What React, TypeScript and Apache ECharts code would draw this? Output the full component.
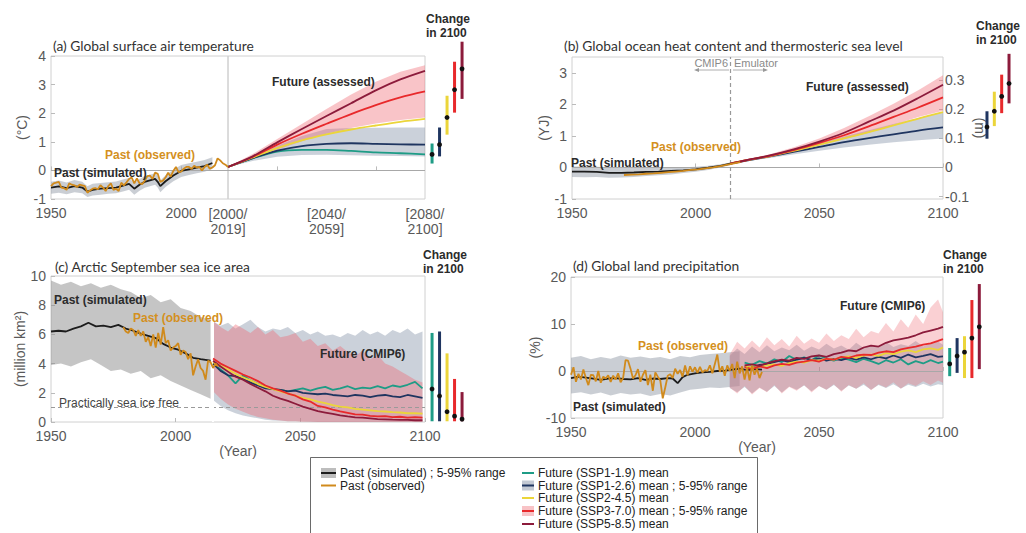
import React, { useEffect, useRef } from 'react';
import * as echarts from 'echarts';

// ---------- colours ----------
const COL_SIM = '#1c1c1c';
const COL_OBS = '#D08A1C';
const COL_119 = '#1E9C86';
const COL_126 = '#1F3560';
const COL_245 = '#EBD53A';
const COL_370 = '#E8292B';
const COL_585 = '#8C1B3B';
const SCEN_COLORS5 = [COL_119, COL_126, COL_245, COL_370, COL_585];
const SCEN_COLORS4 = [COL_126, COL_245, COL_370, COL_585];
const SCEN5 = ['SSP1-1.9', 'SSP1-2.6', 'SSP2-4.5', 'SSP3-7.0', 'SSP5-8.5'];
const SCEN4 = ['SSP1-2.6', 'SSP2-4.5', 'SSP3-7.0', 'SSP5-8.5'];

// ---------- panel (a) global surface air temperature ----------
const A_SIM_YEARS = [1950, 1953, 1956, 1959, 1962, 1964, 1966, 1969, 1972, 1975, 1978, 1980, 1982, 1984, 1986, 1988, 1990, 1991, 1992, 1994, 1997, 2000, 2003, 2006, 2009, 2012];
const A_SIM = [-0.6, -0.56, -0.62, -0.55, -0.6, -0.74, -0.68, -0.64, -0.62, -0.6, -0.52, -0.47, -0.64, -0.5, -0.4, -0.35, -0.3, -0.4, -0.55, -0.38, -0.18, -0.02, 0.04, 0.1, 0.15, 0.26];
const A_SIM_LO = [-0.82, -0.78, -0.83, -0.76, -0.8, -0.93, -0.88, -0.85, -0.82, -0.8, -0.73, -0.68, -0.85, -0.71, -0.61, -0.55, -0.5, -0.6, -0.76, -0.58, -0.38, -0.23, -0.16, -0.1, -0.05, 0.05];
const A_SIM_HI = [-0.4, -0.35, -0.42, -0.34, -0.4, -0.55, -0.47, -0.44, -0.41, -0.39, -0.31, -0.27, -0.44, -0.3, -0.2, -0.15, -0.1, -0.2, -0.35, -0.17, 0.02, 0.19, 0.25, 0.3, 0.36, 0.46];
const A_OBS_YEARS = [1950, 1951, 1952, 1953, 1954, 1955, 1956, 1957, 1958, 1959, 1960, 1961, 1962, 1963, 1964, 1965, 1966, 1967, 1968, 1969, 1970, 1971, 1972, 1973, 1974, 1975, 1976, 1977, 1978, 1979, 1980, 1981, 1982, 1983, 1984, 1985, 1986, 1987, 1988, 1989, 1990, 1991, 1992, 1993, 1994, 1995, 1996, 1997, 1998, 1999, 2000, 2001, 2002, 2003, 2004, 2005, 2006, 2007, 2008, 2009, 2010, 2011, 2012, 2013, 2014, 2015, 2016, 2017, 2018];
const A_OBS = [-0.55, -0.45, -0.43, -0.4, -0.6, -0.62, -0.68, -0.45, -0.5, -0.52, -0.58, -0.5, -0.52, -0.55, -0.78, -0.7, -0.64, -0.62, -0.66, -0.52, -0.6, -0.72, -0.55, -0.45, -0.68, -0.64, -0.72, -0.43, -0.52, -0.42, -0.3, -0.25, -0.45, -0.28, -0.45, -0.48, -0.36, -0.2, -0.18, -0.3, -0.08, -0.12, -0.4, -0.36, -0.25, -0.08, -0.22, -0.02, 0.12, -0.06, -0.04, 0.06, 0.12, 0.12, 0.05, 0.16, 0.1, 0.12, 0.0, 0.12, 0.2, 0.06, 0.1, 0.18, 0.42, 0.35, 0.25, 0.2, 0.12];
const A_PERIOD_TICKS = [2010, 2050, 2090];
const A_PERIOD_LABELS = ['[2000/\n2019]', '[2040/\n2059]', '[2080/\n2100]'];
const A_PERIOD_MINOR_TICKS = [2030, 2070];
const A_FUT_YEARS = [2010, 2020, 2030, 2040, 2050, 2060, 2070, 2080, 2090];
const A_FUT_119 = [0.12, 0.42, 0.66, 0.72, 0.72, 0.68, 0.63, 0.6, 0.56];
const A_FUT_126 = [0.12, 0.43, 0.69, 0.85, 0.93, 0.95, 0.93, 0.91, 0.9];
const A_FUT_245 = [0.12, 0.45, 0.78, 1.05, 1.26, 1.43, 1.57, 1.7, 1.8];
const A_FUT_370 = [0.12, 0.47, 0.9, 1.28, 1.63, 1.97, 2.28, 2.55, 2.76];
const A_FUT_585 = [0.12, 0.49, 0.98, 1.45, 1.9, 2.35, 2.8, 3.18, 3.48];
const A_BAND_126_LO = [0.12, 0.33, 0.48, 0.54, 0.55, 0.53, 0.51, 0.5, 0.49];
const A_BAND_126_HI = [0.12, 0.52, 0.86, 1.2, 1.45, 1.48, 1.49, 1.5, 1.5];
const A_BAND_370_LO = [0.12, 0.4, 0.72, 1.02, 1.28, 1.48, 1.64, 1.76, 1.85];
const A_BAND_370_HI = [0.12, 0.57, 1.1, 1.62, 2.15, 2.65, 3.1, 3.45, 3.68];
const A_CHG_LO = [0.24, 0.49, 1.25, 2.02, 2.5];
const A_CHG_MID = [0.56, 0.9, 1.85, 2.82, 3.55];
const A_CHG_HI = [0.94, 1.5, 2.61, 3.8, 4.5];

// ---------- panel (b) ocean heat content ----------
const B_SIM_YEARS = [1950, 1955, 1960, 1965, 1970, 1975, 1980, 1985, 1990, 1995, 2000, 2005, 2010, 2014];
const B_SIM = [-0.13, -0.13, -0.14, -0.17, -0.17, -0.16, -0.14, -0.13, -0.11, -0.09, -0.06, -0.01, 0.05, 0.12];
const B_SIM_LO = [-0.3, -0.31, -0.3, -0.33, -0.32, -0.3, -0.27, -0.25, -0.22, -0.18, -0.14, -0.08, 0.0, 0.07];
const B_SIM_HI = [0.03, 0.03, 0.02, 0.0, 0.0, 0.0, 0.0, 0.0, 0.01, 0.01, 0.02, 0.05, 0.1, 0.16];
const B_OBS_YEARS = [1971, 1974, 1977, 1980, 1983, 1986, 1989, 1992, 1995, 1998, 2001, 2004, 2007, 2010, 2013, 2016, 2018];
const B_OBS = [-0.24, -0.23, -0.22, -0.2, -0.19, -0.17, -0.15, -0.13, -0.11, -0.08, -0.06, -0.03, 0.0, 0.04, 0.09, 0.14, 0.17];
const B_FUT_YEARS = [2014, 2020, 2030, 2040, 2050, 2060, 2070, 2080, 2090, 2100];
const B_FUT_126 = [0.12, 0.21, 0.35, 0.5, 0.65, 0.8, 0.93, 1.05, 1.17, 1.27];
const B_FUT_245 = [0.12, 0.22, 0.36, 0.53, 0.72, 0.92, 1.12, 1.33, 1.55, 1.75];
const B_FUT_370 = [0.12, 0.22, 0.37, 0.56, 0.78, 1.02, 1.3, 1.6, 1.9, 2.22];
const B_FUT_585 = [0.12, 0.22, 0.38, 0.58, 0.82, 1.1, 1.45, 1.8, 2.2, 2.62];
const B_BAND_126_LO = [0.12, 0.19, 0.3, 0.42, 0.53, 0.63, 0.72, 0.8, 0.86, 0.92];
const B_BAND_126_HI = [0.12, 0.23, 0.4, 0.58, 0.78, 0.98, 1.18, 1.38, 1.57, 1.75];
const B_BAND_370_LO = [0.12, 0.2, 0.33, 0.5, 0.7, 0.9, 1.1, 1.35, 1.6, 1.8];
const B_BAND_370_HI = [0.12, 0.24, 0.42, 0.65, 0.92, 1.25, 1.62, 2.02, 2.45, 2.92];
const B_M_PER_YJ = 0.108;
const B_M_TICKS = [-0.1, 0, 0.1, 0.2, 0.3];
const B_CHG_LO = [0.91, 1.31, 1.72, 2.03];
const B_CHG_MID = [1.28, 1.78, 2.25, 2.66];
const B_CHG_HI = [1.78, 2.4, 2.94, 3.6];

// ---------- panel (c) Arctic September sea ice ----------
const C_SIM_YEARS = [1950, 1953, 1956, 1959, 1962, 1965, 1968, 1971, 1974, 1977, 1980, 1983, 1986, 1989, 1992, 1995, 1998, 2001, 2004, 2007, 2010, 2014];
const C_SIM = [6.2, 6.25, 6.2, 6.4, 6.55, 6.8, 6.55, 6.6, 6.5, 6.65, 6.4, 6.25, 6.05, 5.9, 5.75, 5.35, 5.1, 4.95, 4.7, 4.4, 4.3, 4.2];
const C_PAST_BAND_YEARS = [1950, 1954, 1958, 1962, 1966, 1970, 1974, 1978, 1982, 1986, 1990, 1994, 1998, 2002, 2006, 2010, 2014];
const C_PAST_HI = [9.7, 9.4, 9.6, 9.3, 9.5, 9.2, 9.4, 9.1, 8.9, 8.5, 8.7, 8.2, 8.4, 7.8, 7.6, 7.2, 7.0];
const C_PAST_LO = [3.9, 4.0, 3.8, 4.1, 4.3, 3.9, 3.5, 3.6, 3.3, 3.5, 3.0, 3.2, 2.8, 2.5, 2.2, 1.9, 1.6];
const C_OBS_YEARS = [1979, 1980, 1981, 1982, 1983, 1984, 1985, 1986, 1987, 1988, 1989, 1990, 1991, 1992, 1993, 1994, 1995, 1996, 1997, 1998, 1999, 2000, 2001, 2002, 2003, 2004, 2005, 2006, 2007, 2008, 2009, 2010, 2011, 2012, 2013, 2014, 2015, 2016, 2017];
const C_OBS = [6.5, 6.2, 6.1, 6.4, 6.3, 5.9, 6.3, 5.9, 6.2, 5.5, 5.8, 5.2, 6.0, 5.1, 6.1, 5.3, 6.5, 5.4, 5.6, 4.9, 5.1, 5.2, 5.4, 4.6, 4.9, 4.8, 4.3, 4.7, 3.2, 3.8, 4.3, 3.7, 3.5, 2.9, 4.2, 4.1, 3.7, 4.0, 3.8];
const C_FUT_YEARS = [2015, 2018, 2021, 2024, 2027, 2030, 2033, 2036, 2039, 2042, 2045, 2048, 2051, 2054, 2057, 2060, 2063, 2066, 2069, 2072, 2075, 2078, 2081, 2084, 2087, 2090, 2093, 2096, 2099];
const C_FUT_119 = [4.0, 3.6, 3.2, 2.65, 3.2, 2.85, 2.6, 2.4, 2.25, 2.2, 2.1, 2.2, 2.3, 2.15, 2.3, 2.4, 2.2, 2.3, 2.45, 2.25, 2.35, 2.3, 2.45, 2.3, 2.5, 2.4, 2.55, 2.75, 2.3];
const C_FUT_126 = [4.0, 3.5, 3.2, 3.15, 2.95, 2.7, 2.5, 2.3, 2.25, 2.2, 2.1, 2.15, 2.0, 1.95, 1.9, 1.95, 1.85, 1.8, 1.75, 1.85, 1.8, 1.7, 1.8, 1.85, 1.75, 1.7, 1.85, 1.75, 1.65];
const C_FUT_245 = [4.1, 3.85, 3.6, 3.3, 3.05, 2.85, 2.6, 2.4, 2.25, 2.1, 1.95, 1.8, 1.65, 1.55, 1.4, 1.3, 1.15, 1.05, 1.0, 0.9, 0.85, 0.8, 0.75, 0.72, 0.68, 0.65, 0.6, 0.6, 0.58];
const C_FUT_370 = [4.35, 4.0, 3.75, 3.5, 3.25, 3.05, 2.8, 2.5, 2.3, 2.15, 1.95, 1.8, 1.55, 1.4, 1.1, 1.0, 0.85, 0.72, 0.62, 0.52, 0.5, 0.42, 0.38, 0.4, 0.33, 0.36, 0.3, 0.33, 0.3];
const C_FUT_585 = [4.2, 3.8, 3.45, 3.1, 2.9, 2.6, 2.35, 2.1, 1.8, 1.6, 1.45, 1.25, 1.05, 0.9, 0.75, 0.65, 0.55, 0.45, 0.38, 0.32, 0.3, 0.25, 0.2, 0.18, 0.16, 0.15, 0.14, 0.12, 0.12];
const C_BAND_370_HI = [6.9, 6.5, 6.2, 6.7, 6.4, 6.1, 6.5, 6.0, 6.3, 5.8, 5.9, 6.1, 5.5, 5.7, 5.2, 5.4, 4.9, 5.2, 4.8, 4.5, 4.9, 4.3, 4.6, 4.0, 3.8, 3.5, 3.2, 2.9, 2.7];
const C_BAND_370_LO = [2.1, 1.6, 1.2, 0.9, 0.7, 0.5, 0.35, 0.25, 0.15, 0.1, 0.05, 0.05, 0.02, 0.02, 0, 0, 0, 0, 0, 0, 0, 0, 0, 0, 0, 0, 0, 0, 0];
const C_BAND_126_HI = [6.9, 6.6, 6.8, 6.4, 6.7, 7.0, 6.5, 6.2, 6.4, 6.3, 6.5, 6.1, 6.3, 6.0, 6.2, 5.9, 6.0, 5.8, 6.1, 5.9, 6.3, 6.0, 6.2, 5.9, 6.3, 6.1, 6.4, 6.0, 6.2];
const C_BAND_126_LO = [1.5, 1.1, 0.8, 0.6, 0.45, 0.35, 0.25, 0.15, 0.1, 0.08, 0.05, 0.05, 0.03, 0.02, 0, 0, 0, 0, 0, 0, 0, 0, 0, 0, 0, 0, 0, 0, 0];
const C_ICE_FREE = 1;
const C_SPLIT_YEAR = 2015;
const C_CHG_LO = [0.05, 0.05, 0.05, 0.05, 0.05];
const C_CHG_MID = [2.26, 1.78, 0.7, 0.4, 0.2];
const C_CHG_HI = [6.1, 6.2, 4.7, 2.95, 2.05];

// ---------- panel (d) global land precipitation ----------
const D_SIM_YEARS = [1950, 1953, 1956, 1959, 1962, 1965, 1968, 1971, 1974, 1977, 1980, 1983, 1986, 1989, 1991, 1993, 1995, 1997, 2000, 2003, 2006, 2009, 2012, 2015, 2018, 2021, 2024, 2027];
const D_SIM = [-1.5, -1.2, -1.4, -1.6, -1.9, -1.6, -1.5, -1.7, -1.8, -1.5, -1.9, -1.6, -1.7, -1.5, -1.6, -2.6, -1.3, -0.8, -0.5, -0.3, -0.2, 0.0, 0.1, 0.3, 0.5, 0.2, 0.4, 0.3];
const D_PAST_BAND_YEARS = [1950, 1954, 1958, 1962, 1966, 1970, 1974, 1978, 1982, 1986, 1990, 1994, 1998, 2002, 2006, 2010, 2014, 2018];
const D_PAST_HI = [2.8, 3.2, 2.5, 3.0, 2.6, 3.3, 2.8, 3.1, 2.7, 3.0, 2.5, 3.2, 2.9, 3.4, 3.6, 3.8, 4.0, 4.2];
const D_PAST_LO = [-4.8, -4.5, -5.0, -4.6, -5.2, -4.7, -5.0, -4.8, -5.3, -4.9, -5.2, -4.6, -4.0, -3.8, -3.5, -3.6, -3.4, -3.2];
const D_OBS_YEARS = [1950, 1951, 1952, 1953, 1954, 1955, 1956, 1957, 1958, 1959, 1960, 1961, 1962, 1963, 1964, 1965, 1966, 1967, 1968, 1969, 1970, 1971, 1972, 1973, 1974, 1975, 1976, 1977, 1978, 1979, 1980, 1981, 1982, 1983, 1984, 1985, 1986, 1987, 1988, 1989, 1990, 1991, 1992, 1993, 1994, 1995, 1996, 1997, 1998, 1999, 2000, 2001, 2002, 2003, 2004, 2005, 2006, 2007, 2008, 2009, 2010, 2011, 2012, 2013, 2014, 2015, 2016, 2017, 2018, 2019, 2020, 2021, 2022, 2023, 2024, 2025, 2026, 2027];
const D_OBS = [-0.8, 0.8, -2.3, -0.6, -1.8, 0.3, -1.5, -3.0, -0.8, -0.9, -2.2, 0.0, -2.5, -1.2, -1.6, -0.9, -2.3, -1.0, -1.8, -0.5, -2.4, -1.5, 2.3, 2.2, 0.5, -1.6, -0.9, 0.4, -2.3, -0.8, 0.2, -3.0, -0.8, -4.2, -0.3, -1.2, -2.0, -5.8, -3.5, -1.0, -0.7, -1.5, 0.5, -0.6, 0.2, -1.2, 1.2, -0.9, 1.0, -0.2, 0.8, -0.4, 0.9, -0.3, 0.2, 0.0, 1.2, -0.5, 1.5, 3.5, -0.2, 1.0, -1.0, 1.2, 0.0, 1.5, -1.5, 2.0, -0.5, 1.0, -1.8, 0.8, -2.0, 1.2, -0.8, 0.5, -1.5, -0.2];
const D_FUT_YEARS = [2020, 2023, 2026, 2029, 2032, 2035, 2038, 2041, 2044, 2047, 2050, 2053, 2056, 2059, 2062, 2065, 2068, 2071, 2074, 2077, 2080, 2083, 2086, 2089, 2092, 2095, 2098, 2100];
const D_FUT_119 = [1.8, 1.3, 2.1, 1.6, 2.5, 1.9, 3.2, 2.4, 2.9, 2.3, 3.3, 2.6, 2.2, 2.8, 2.4, 1.9, 2.6, 2.1, 1.5, 2.3, 1.8, 2.5, 1.4, 2.1, 1.6, 2.3, 1.7, 2.0];
const D_FUT_126 = [1.0, 0.6, 1.3, 1.5, 1.9, 2.3, 1.9, 2.4, 2.8, 2.3, 2.7, 2.2, 2.6, 2.3, 2.8, 2.4, 2.9, 2.5, 3.0, 2.7, 3.3, 2.8, 3.5, 2.9, 3.2, 3.6, 3.0, 3.1];
const D_FUT_245 = [1.0, 0.7, 0.9, 1.2, 1.4, 1.1, 1.7, 2.0, 1.8, 2.3, 2.2, 2.6, 2.4, 2.9, 3.1, 2.8, 3.3, 3.5, 3.2, 3.8, 3.6, 4.1, 4.4, 4.0, 4.6, 4.8, 4.5, 5.0];
const D_FUT_370 = [0.8, 0.4, 1.0, 0.6, 1.2, 1.5, 1.3, 1.8, 2.0, 2.3, 2.0, 2.6, 2.4, 3.0, 2.8, 3.3, 3.5, 3.4, 3.9, 4.2, 4.0, 4.6, 4.9, 5.2, 5.6, 5.9, 6.4, 6.8];
const D_FUT_585 = [1.2, 1.4, 1.1, 1.6, 2.1, 2.4, 2.2, 2.8, 2.6, 3.1, 3.3, 3.0, 3.6, 3.9, 4.4, 4.2, 5.0, 5.4, 5.2, 6.0, 6.5, 6.8, 7.1, 7.6, 8.2, 8.6, 9.0, 9.4];
const D_BAND_YEARS = [2014, 2017, 2020, 2023, 2026, 2029, 2032, 2035, 2038, 2041, 2044, 2047, 2050, 2053, 2056, 2059, 2062, 2065, 2068, 2071, 2074, 2077, 2080, 2083, 2086, 2089, 2092, 2095, 2098, 2100];
const D_BAND_370_HI = [3.5, 6.2, 4.8, 6.5, 5.0, 7.2, 5.5, 6.8, 5.2, 7.5, 5.8, 6.9, 6.0, 8.0, 6.4, 7.6, 6.8, 9.0, 7.2, 8.5, 8.0, 10.2, 8.4, 11.0, 9.2, 12.0, 10.0, 13.5, 15.2, 12.5];
const D_BAND_370_LO = [-3.5, -4.8, -3.2, -5.0, -3.6, -4.5, -3.0, -4.8, -3.4, -4.2, -3.0, -4.6, -3.2, -4.0, -2.8, -4.4, -3.0, -3.8, -2.6, -4.1, -2.8, -3.5, -2.4, -3.8, -2.6, -3.2, -2.2, -3.0, -2.0, -2.5];
const D_BAND_126_HI = [3.2, 4.8, 3.6, 5.2, 4.0, 5.5, 4.2, 5.0, 4.4, 5.6, 4.3, 5.2, 4.6, 5.8, 4.8, 5.4, 4.5, 6.0, 4.9, 5.5, 5.0, 6.2, 5.1, 5.7, 5.3, 6.4, 5.2, 5.9, 6.3, 5.6];
const D_BAND_126_LO = [-3.6, -4.5, -3.4, -4.8, -3.5, -4.4, -3.2, -4.6, -3.3, -4.0, -3.1, -4.3, -3.2, -4.0, -3.0, -4.2, -3.1, -3.8, -2.9, -4.0, -3.0, -3.6, -2.8, -3.7, -2.9, -3.4, -2.7, -3.3, -2.8, -3.0];
const D_CHG_LO = [-1.1, -0.4, -1.5, -1.5, 0.4];
const D_CHG_MID = [1.5, 3.2, 4.0, 7.0, 9.4];
const D_CHG_HI = [4.9, 7.0, 7.4, 15.1, 18.5];

// ---------- legend ----------
const LEGEND_LEFT = [
  { label: 'Past (simulated) ; 5-95% range', line: COL_SIM, fill: '#BDBDBD' },
  { label: 'Past (observed)', line: COL_OBS, fill: '' },
];
const LEGEND_RIGHT = [
  { label: 'Future (SSP1-1.9) mean', line: COL_119, fill: '' },
  { label: 'Future (SSP1-2.6) mean ; 5-95% range', line: COL_126, fill: '#C3C9D3' },
  { label: 'Future (SSP2-4.5) mean', line: COL_245, fill: '' },
  { label: 'Future (SSP3-7.0) mean ; 5-95% range', line: COL_370, fill: '#F8C3C6' },
  { label: 'Future (SSP5-8.5) mean', line: COL_585, fill: '' },
];

// ---------- styles ----------
const SANS = '"Liberation Sans", Arial, Helvetica, sans-serif';
const BAND_PAST_A = 'rgba(150,158,170,0.5)';
const BAND_PAST_C = 'rgba(140,140,140,0.5)';
const BAND_126 = 'rgba(140,152,172,0.45)';
const BAND_370 = 'rgba(240,100,110,0.38)';
const TXT_DARK = '#2b2b2b';
const TXT_OBS = '#D4901E';
const AX_LABEL = { color: '#595959', fontSize: 14, fontFamily: SANS };
const AX_TICK = { show: true, inside: true, length: 4, lineStyle: { color: '#bbb' } };
const AX_NAME = { color: '#595959', fontSize: 14, fontFamily: SANS };
const plainNum = (v: number) => String(v);

function zip(xs: number[], ys: number[]) {
  return xs.map((x, i) => [x, ys[i]]);
}

function lineS(xs: number[], ys: number[], color: string, xi: number, yi: number, extra: any = {}) {
  return {
    type: 'line', xAxisIndex: xi, yAxisIndex: yi, data: zip(xs, ys),
    showSymbol: false, symbol: 'none', silent: true, z: 5,
    lineStyle: { color, width: 1.8 }, ...extra,
  };
}

function bandS(xs: number[], lo: number[], hi: number[], color: string, xi: number, yi: number, z = 2) {
  return {
    type: 'custom', xAxisIndex: xi, yAxisIndex: yi, silent: true, z,
    data: [[xs[0], lo[0]]],
    renderItem: (_p: any, api: any) => {
      const pts: number[][] = [];
      for (let i = 0; i < xs.length; i++) pts.push(api.coord([xs[i], hi[i]]));
      for (let i = xs.length - 1; i >= 0; i--) pts.push(api.coord([xs[i], lo[i]]));
      return { type: 'polygon', shape: { points: pts }, style: { fill: color } };
    },
  };
}

function whiskerS(lo: number[], mid: number[], hi: number[], colors: string[], xi: number, yi: number) {
  return {
    type: 'custom', xAxisIndex: xi, yAxisIndex: yi, silent: true, z: 6,
    data: mid.map((m, i) => [i, lo[i], m, hi[i]]),
    encode: { x: 0, y: [1, 2, 3] },
    renderItem: (p: any, api: any) => {
      const i = api.value(0);
      const a = api.coord([i, api.value(1)]);
      const b = api.coord([i, api.value(3)]);
      const c = api.coord([i, api.value(2)]);
      return {
        type: 'group',
        children: [
          { type: 'line', shape: { x1: a[0], y1: a[1], x2: b[0], y2: b[1] }, style: { stroke: colors[p.dataIndex], lineWidth: 3 } },
          { type: 'circle', shape: { cx: c[0], cy: c[1], r: 2.4 }, style: { fill: '#111' } },
        ],
      };
    },
  };
}

function txt(x: number, y: number, text: string, font: string, fill: string, align = 'left') {
  return {
    type: 'text', x, y, silent: true, z: 50,
    style: { text, font, fill, textAlign: align, align, textVerticalAlign: 'middle', verticalAlign: 'middle' },
  };
}

function buildOption() {
  const grid = [
    { left: 51, top: 56, width: 177, height: 143 },
    { left: 228, top: 56, width: 197, height: 143 },
    { left: 428.3, top: 27.4, width: 37.5, height: 171.6, show: false },
    { left: 572, top: 57, width: 371, height: 142 },
    { left: 983.3, top: 41.2, width: 29.4, height: 157.8, show: false },
    { left: 51, top: 276, width: 374, height: 146 },
    { left: 428.3, top: 276, width: 37.5, height: 146, show: false },
    { left: 571, top: 277, width: 372, height: 141 },
    { left: 946, top: 277, width: 37, height: 141, show: false },
  ].map((g: any) => ({ show: true, borderColor: '#d0d0d0', borderWidth: 1, backgroundColor: 'transparent', ...g }));

  const valX = (gi: number, extra: any = {}) => ({
    type: 'value', gridIndex: gi, min: 1950, max: 2100, interval: 50,
    axisLine: { show: false }, axisTick: AX_TICK, splitLine: { show: false },
    axisLabel: { ...AX_LABEL, margin: 7, formatter: plainNum }, ...extra,
  });
  const catX = (gi: number, data: string[]) => ({ type: 'category', gridIndex: gi, data, show: false });
  const hidY = (gi: number, min: number, max: number) => ({ type: 'value', gridIndex: gi, min, max, show: false });

  const xAxis = [
    valX(0, { max: 2018, axisLabel: { ...AX_LABEL, margin: 7, showMaxLabel: false, formatter: plainNum } }),
    {
      type: 'value', gridIndex: 1, min: 2010, max: 2090,
      axisLine: { show: false }, splitLine: { show: false },
      axisTick: { ...AX_TICK, customValues: A_PERIOD_MINOR_TICKS },
      axisLabel: {
        ...AX_LABEL, margin: 7, lineHeight: 15, customValues: A_PERIOD_TICKS,
        formatter: (v: number) => A_PERIOD_LABELS[A_PERIOD_TICKS.indexOf(v)] || '',
      },
    },
    catX(2, SCEN5),
    valX(3),
    catX(4, SCEN4),
    valX(5, { name: '(Year)', nameLocation: 'middle', nameGap: 22, nameTextStyle: AX_NAME }),
    catX(6, SCEN5),
    valX(7, { name: '(Year)', nameLocation: 'middle', nameGap: 22, nameTextStyle: AX_NAME }),
    catX(8, SCEN5),
  ];

  const valY = (gi: number, min: number, max: number, interval: number, name: string, gap: number, extra: any = {}) => ({
    type: 'value', gridIndex: gi, min, max, interval,
    axisLine: { show: false }, axisTick: AX_TICK, splitLine: { show: false },
    axisLabel: { ...AX_LABEL, margin: 5 },
    name, nameLocation: 'middle', nameGap: gap, nameTextStyle: AX_NAME, ...extra,
  });

  const yAxis = [
    valY(0, -1, 4, 1, '(°C)', 22),
    { type: 'value', gridIndex: 1, min: -1, max: 4, interval: 1, axisLine: { show: false }, axisTick: { show: false }, axisLabel: { show: false }, splitLine: { show: false } },
    hidY(2, -1, 5),
    valY(3, -1, 3.5, 1, '(YJ)', 20, { axisLabel: { ...AX_LABEL, margin: 5, showMaxLabel: false } }),
    {
      type: 'value', gridIndex: 3, position: 'right', min: -1 * B_M_PER_YJ, max: 3.5 * B_M_PER_YJ,
      axisLine: { show: false }, splitLine: { show: false },
      axisTick: { ...AX_TICK, customValues: B_M_TICKS },
      axisLabel: { ...AX_LABEL, margin: 2, customValues: B_M_TICKS, formatter: (v: number) => (Math.abs(v) < 1e-9 ? '0' : v.toFixed(1)) },
      name: '(m)', nameLocation: 'middle', nameGap: 22, nameRotate: -90, nameTextStyle: AX_NAME,
    },
    hidY(4, -1, 4),
    valY(5, 0, 10, 2, '(million km²)', 22),
    hidY(6, 0, 10),
    valY(7, -10, 20, 10, '(%)', 24),
    hidY(8, -10, 20),
  ];

  const zeroLine = { silent: true, symbol: 'none', label: { show: false }, lineStyle: { color: '#a8a8a8', width: 1, type: 'solid' }, data: [{ yAxis: 0 }] };

  const series: any[] = [
    // ---- (a)
    bandS(A_SIM_YEARS, A_SIM_LO, A_SIM_HI, BAND_PAST_A, 0, 0),
    lineS(A_SIM_YEARS, A_SIM, COL_SIM, 0, 0, { markLine: zeroLine }),
    lineS(A_OBS_YEARS, A_OBS, COL_OBS, 0, 0, { z: 6 }),
    bandS(A_FUT_YEARS, A_BAND_126_LO, A_BAND_126_HI, BAND_126, 1, 1, 2),
    bandS(A_FUT_YEARS, A_BAND_370_LO, A_BAND_370_HI, BAND_370, 1, 1, 3),
    lineS(A_FUT_YEARS, A_FUT_119, COL_119, 1, 1, { smooth: 0.3, markLine: zeroLine }),
    lineS(A_FUT_YEARS, A_FUT_126, COL_126, 1, 1, { smooth: 0.3 }),
    lineS(A_FUT_YEARS, A_FUT_245, COL_245, 1, 1, { smooth: 0.3 }),
    lineS(A_FUT_YEARS, A_FUT_370, COL_370, 1, 1, { smooth: 0.3 }),
    lineS(A_FUT_YEARS, A_FUT_585, COL_585, 1, 1, { smooth: 0.3 }),
    whiskerS(A_CHG_LO, A_CHG_MID, A_CHG_HI, SCEN_COLORS5, 2, 2),
    // ---- (b)
    bandS(B_SIM_YEARS, B_SIM_LO, B_SIM_HI, BAND_PAST_A, 3, 3),
    bandS(B_FUT_YEARS, B_BAND_126_LO, B_BAND_126_HI, BAND_126, 3, 3, 2),
    bandS(B_FUT_YEARS, B_BAND_370_LO, B_BAND_370_HI, BAND_370, 3, 3, 3),
    lineS(B_SIM_YEARS, B_SIM, COL_SIM, 3, 3, {
      markLine: {
        silent: true, symbol: 'none', label: { show: false }, lineStyle: { color: '#a8a8a8', width: 1, type: 'solid' },
        data: [{ yAxis: 0 }, { xAxis: B_SIM_YEARS[B_SIM_YEARS.length - 1], lineStyle: { color: '#999', type: [4, 3], width: 1.2 } }],
      },
    }),
    lineS(B_OBS_YEARS, B_OBS, COL_OBS, 3, 3, { z: 6 }),
    lineS(B_FUT_YEARS, B_FUT_126, COL_126, 3, 3, { smooth: 0.3 }),
    lineS(B_FUT_YEARS, B_FUT_245, COL_245, 3, 3, { smooth: 0.3 }),
    lineS(B_FUT_YEARS, B_FUT_370, COL_370, 3, 3, { smooth: 0.3 }),
    lineS(B_FUT_YEARS, B_FUT_585, COL_585, 3, 3, { smooth: 0.3 }),
    whiskerS(B_CHG_LO, B_CHG_MID, B_CHG_HI, SCEN_COLORS4, 4, 5),
    // ---- (c)
    bandS(C_PAST_BAND_YEARS, C_PAST_LO, C_PAST_HI, BAND_PAST_C, 5, 6),
    bandS(C_FUT_YEARS, C_BAND_126_LO, C_BAND_126_HI, BAND_126, 5, 6, 2),
    bandS(C_FUT_YEARS, C_BAND_370_LO, C_BAND_370_HI, BAND_370, 5, 6, 3),
    lineS(C_SIM_YEARS, C_SIM, COL_SIM, 5, 6, {
      markLine: {
        silent: true, symbol: 'none', label: { show: false },
        data: [
          { yAxis: C_ICE_FREE, lineStyle: { color: '#9a9a9a', type: [4, 3], width: 1 } },
          [{ coord: [C_SPLIT_YEAR, 0], lineStyle: { color: '#ffffff', width: 2, type: 'solid' } }, { coord: [C_SPLIT_YEAR, 7.2] }],
        ],
      },
    }),
    lineS(C_OBS_YEARS, C_OBS, COL_OBS, 5, 6, { z: 6 }),
    lineS(C_FUT_YEARS, C_FUT_119, COL_119, 5, 6),
    lineS(C_FUT_YEARS, C_FUT_126, COL_126, 5, 6),
    lineS(C_FUT_YEARS, C_FUT_245, COL_245, 5, 6),
    lineS(C_FUT_YEARS, C_FUT_585, COL_585, 5, 6),
    lineS(C_FUT_YEARS, C_FUT_370, COL_370, 5, 6),
    whiskerS(C_CHG_LO, C_CHG_MID, C_CHG_HI, SCEN_COLORS5, 6, 7),
    // ---- (d)
    bandS(D_PAST_BAND_YEARS, D_PAST_LO, D_PAST_HI, BAND_PAST_A, 7, 8),
    bandS(D_BAND_YEARS, D_BAND_126_LO, D_BAND_126_HI, BAND_126, 7, 8, 2),
    bandS(D_BAND_YEARS, D_BAND_370_LO, D_BAND_370_HI, 'rgba(240,100,110,0.3)', 7, 8, 3),
    lineS(D_SIM_YEARS, D_SIM, COL_SIM, 7, 8, { markLine: zeroLine }),
    lineS(D_OBS_YEARS, D_OBS, COL_OBS, 7, 8, { z: 6 }),
    lineS(D_FUT_YEARS, D_FUT_119, COL_119, 7, 8),
    lineS(D_FUT_YEARS, D_FUT_126, COL_126, 7, 8),
    lineS(D_FUT_YEARS, D_FUT_245, COL_245, 7, 8),
    lineS(D_FUT_YEARS, D_FUT_370, COL_370, 7, 8),
    lineS(D_FUT_YEARS, D_FUT_585, COL_585, 7, 8),
    whiskerS(D_CHG_LO, D_CHG_MID, D_CHG_HI, SCEN_COLORS5, 8, 9),
  ];

  const TITLE_FONT = '13.8px Lato, "Open Sans", sans-serif';
  const BOLD = `bold 12px ${SANS}`;
  const REG = `12px ${SANS}`;

  const graphic: any[] = [
    txt(53, 45, '(a) Global surface air temperature', TITLE_FONT, '#333'),
    txt(564, 45, '(b) Global ocean heat content and thermosteric sea level', TITLE_FONT, '#333'),
    txt(55, 266, '(c) Arctic September sea ice area', TITLE_FONT, '#333'),
    txt(573, 265, '(d) Global land precipitation', TITLE_FONT, '#333'),
    txt(426, 19, 'Change', BOLD, TXT_DARK), txt(426, 33, 'in 2100', BOLD, TXT_DARK),
    txt(976, 26, 'Change', BOLD, TXT_DARK), txt(976, 40, 'in 2100', BOLD, TXT_DARK),
    txt(423, 255, 'Change', BOLD, TXT_DARK), txt(423, 269, 'in 2100', BOLD, TXT_DARK),
    txt(943, 255, 'Change', BOLD, TXT_DARK), txt(943, 269, 'in 2100', BOLD, TXT_DARK),
    txt(54, 173, 'Past (simulated)', BOLD, TXT_DARK),
    txt(105, 155, 'Past (observed)', BOLD, TXT_OBS),
    txt(272, 82, 'Future (assessed)', BOLD, TXT_DARK),
    txt(571, 163, 'Past (simulated)', BOLD, TXT_DARK),
    txt(651, 147, 'Past (observed)', BOLD, TXT_OBS),
    txt(806, 87, 'Future (assessed)', BOLD, TXT_DARK),
    txt(728, 63, 'CMIP6', `11px ${SANS}`, '#8a8a8a', 'right'),
    txt(734, 63, 'Emulator', `11px ${SANS}`, '#8a8a8a'),
    { type: 'line', silent: true, z: 50, shape: { x1: 697, y1: 70, x2: 729, y2: 70 }, style: { stroke: '#999', lineWidth: 0.8 } },
    { type: 'polygon', silent: true, z: 50, shape: { points: [[694, 70], [699, 68], [699, 72]] }, style: { fill: '#999' } },
    { type: 'line', silent: true, z: 50, shape: { x1: 733, y1: 70, x2: 765, y2: 70 }, style: { stroke: '#999', lineWidth: 0.8 } },
    { type: 'polygon', silent: true, z: 50, shape: { points: [[768, 70], [763, 68], [763, 72]] }, style: { fill: '#999' } },
    txt(54, 300, 'Past (simulated)', BOLD, TXT_DARK),
    txt(133, 318, 'Past (observed)', BOLD, TXT_OBS),
    txt(320, 354, 'Future (CMIP6)', BOLD, TXT_DARK),
    txt(59, 403, 'Practically sea ice free', REG, '#444'),
    txt(840, 306, 'Future (CMIP6)', BOLD, TXT_DARK),
    txt(638, 346, 'Past (observed)', BOLD, TXT_OBS),
    txt(573, 407, 'Past (simulated)', BOLD, TXT_DARK),
    { type: 'rect', silent: true, z: 40, shape: { x: 310.5, y: 457.5, width: 447, height: 90 }, style: { fill: '#fff', stroke: '#444', lineWidth: 0.8 } },
  ];
  const rowY = [473, 485.5, 498, 511, 524];
  const legendItem = (x0: number, y: number, it: any, w: number) => {
    const els: any[] = [];
    if (it.fill) els.push({ type: 'rect', silent: true, z: 41, shape: { x: x0, y: y - 5, width: w, height: 10 }, style: { fill: it.fill } });
    els.push({ type: 'line', silent: true, z: 42, shape: { x1: x0, y1: y, x2: x0 + w, y2: y }, style: { stroke: it.line, lineWidth: 2 } });
    els.push(txt(x0 + w + 4, y, it.label, REG, '#222'));
    return els;
  };
  LEGEND_LEFT.forEach((it, i) => graphic.push(...legendItem(321, rowY[i], it, 15)));
  LEGEND_RIGHT.forEach((it, i) => graphic.push(...legendItem(522, rowY[i], it, 12)));

  return { animation: false, backgroundColor: '#fff', grid, xAxis, yAxis, series, graphic };
}

export default function App() {
  const ref = useRef<HTMLDivElement>(null);
  useEffect(() => {
    if (!ref.current) return;
    const chart = echarts.init(ref.current, null, { renderer: 'svg' });
    chart.setOption(buildOption() as any);
    return () => chart.dispose();
  }, []);
  return <div ref={ref} style={{ position: 'fixed', left: 0, top: 0, width: 1026, height: 533, background: '#fff' }} />;
}
